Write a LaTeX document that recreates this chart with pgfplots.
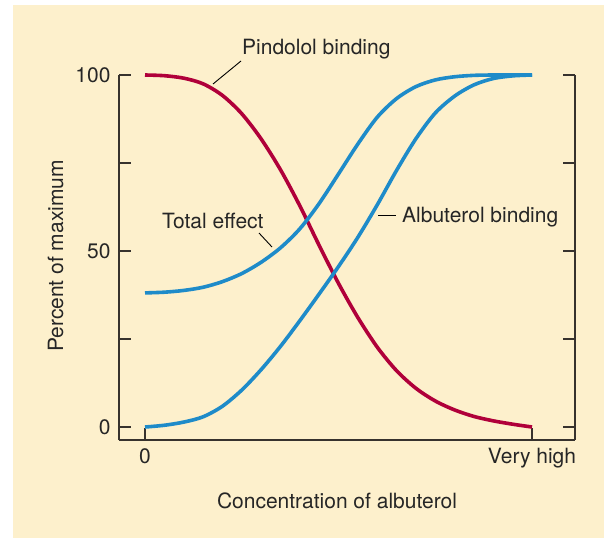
\documentclass[border=0pt]{standalone}
\usepackage{fontspec}
\setmainfont{TeX Gyre Heros}
\usepackage{pgfplots}
\pgfplotsset{compat=1.18}
\definecolor{bg}{RGB}{253,240,204}
\definecolor{pred}{RGB}{176,0,58}
\definecolor{pblue}{RGB}{30,139,201}
\definecolor{axc}{RGB}{55,50,45}
\begin{document}
\begin{tikzpicture}[x=1bp,y=1bp,font=\fontsize{21bp}{25bp}\selectfont]
\useasboundingbox (0,0) rectangle (604,-538);
\fill[white] (0,0) rectangle (604,-538);
\fill[bg] (13,-5) rectangle (604,-538);
\begin{axis}[
  at={(119bp,-440bp)}, anchor=south west,
  scale only axis, width=456bp, height=365bp,
  xmin=-0.0672, xmax=1.1111, ymin=-3.69, ymax=100,
  axis x line*=bottom, axis y line*=box,
  axis line style={axc, line width=1.4bp},
  tick style={axc, line width=1.3bp},
  tick align=inside, major tick length=12bp,
  xtick={0,1}, xticklabels={0,Very high},
  ytick={0,25,50,75,100}, yticklabels={0,,50,,100},
  yticklabel pos=left,
  xticklabel style={yshift=-5bp, text=black!85},
  yticklabel style={xshift=-5bp, text=black!85},
  /pgf/number format/assume math mode=true,
  clip=false,
]
% Pindolol binding
\addplot[pred, line width=3.6bp, smooth] coordinates {
(0,100) (0.05,99.8) (0.1,99.1) (0.15,97.5) (0.2,94.2) (0.25,89.0)
(0.3,81.85) (0.35,73.1) (0.4,62.85) (0.45,51.6) (0.5,40.8) (0.55,31.1)
(0.6,22.7) (0.65,16.0) (0.7,11.0) (0.75,7.4) (0.8,4.85) (0.85,3.0)
(0.9,1.75) (0.95,0.8) (1,0)};
% Total effect
\addplot[pblue, line width=3.6bp, smooth] coordinates {
(0,38.1) (0.05,38.3) (0.1,38.8) (0.15,39.7) (0.2,41.3) (0.25,43.6)
(0.3,46.8) (0.35,50.9) (0.4,56.3) (0.45,63.5) (0.5,71.9) (0.55,80.4)
(0.6,88.0) (0.65,93.3) (0.7,96.7) (0.75,98.6) (0.8,99.5) (0.85,99.9)
(0.9,100) (0.95,100) (1,100)};
% Albuterol binding
\addplot[pblue, line width=3.6bp, smooth] coordinates {
(0,0) (0.05,0.5) (0.1,1.4) (0.15,2.9) (0.2,5.9) (0.25,10.5)
(0.3,16.3) (0.35,22.9) (0.4,30.2) (0.45,37.8) (0.5,45.6) (0.55,53.9)
(0.6,63.1) (0.65,72.9) (0.7,81.9) (0.75,89.2) (0.8,94.0) (0.85,97.2)
(0.9,99.0) (0.95,99.75) (1,100)};
\end{axis}
\draw[black, line width=0.9bp] (213,-84) -- (241,-61);
\draw[black, line width=0.9bp] (259,-233) -- (272,-247);
\draw[black, line width=0.9bp] (378,-215) -- (396,-215);
\node[anchor=base west, inner sep=0, text=black!85] at (242,-55) {Pindolol binding};
\node[anchor=base west, inner sep=0, text=black!85] at (162,-229) {Total effect};
\node[anchor=base west, inner sep=0, text=black!85] at (402,-223) {Albuterol binding};
\node[anchor=base, inner sep=0, text=black!85] at (337,-508) {Concentration of albuterol};
\node[rotate=90, anchor=base, inner sep=0, text=black!85] at (63,-256) {Percent of maximum};
\end{tikzpicture}
\end{document}
